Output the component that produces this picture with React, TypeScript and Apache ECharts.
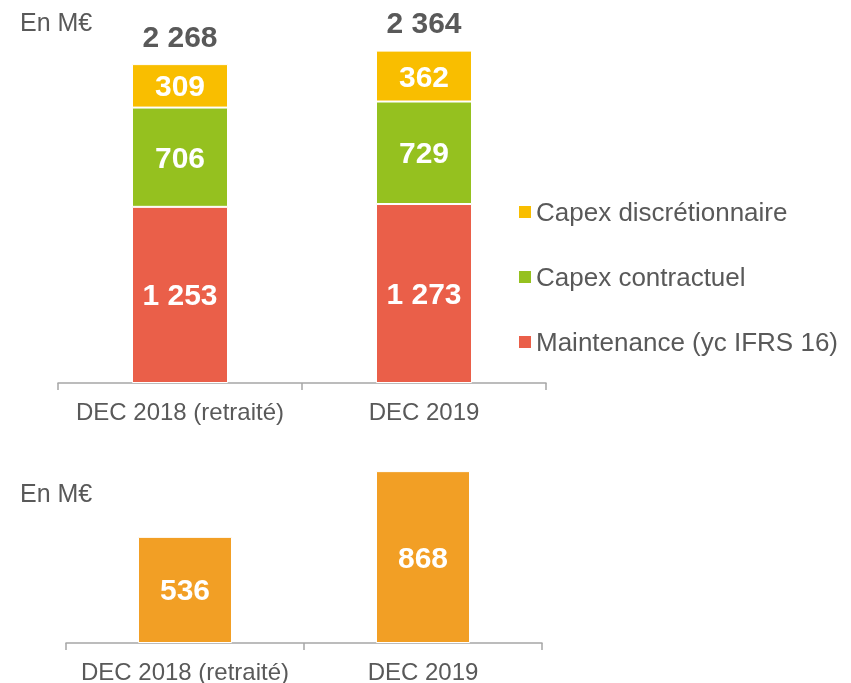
import React, { useEffect, useRef } from "react";
import * as echarts from "echarts";

const categories = ["DEC 2018 (retraité)", "DEC 2019"];
const maintenance = [1253, 1273];
const contractuel = [706, 729];
const discretionnaire = [309, 362];
const bottomValues = [536, 868];
const unitLabel = "En M€";

const FONT = "'Liberation Sans', Arial, sans-serif";
const GRAY = "#595959";

const fmt = (v: number) => String(v).replace(/\B(?=(\d{3})+(?!\d))/g, " ");

export default function App() {
  const ref = useRef<HTMLDivElement>(null);
  useEffect(() => {
    if (!ref.current) return;
    const chart = echarts.init(ref.current, null, { renderer: "svg" });
    const totals = categories.map((_, i) => maintenance[i] + contractuel[i] + discretionnaire[i]);
    const inside = {
      show: true,
      position: "inside",
      color: "#fff",
      fontFamily: FONT,
      fontWeight: "bold",
      fontSize: 30,
      formatter: (p: any) => fmt(p.value),
    };
    const axisCommon = {
      type: "category",
      data: categories,
      axisLine: { lineStyle: { color: "#a6a6a6", width: 1.5 } },
      axisTick: { show: true, interval: 0, length: 7, lineStyle: { color: "#a6a6a6", width: 1.5 } },
      axisLabel: { interval: 0, color: GRAY, fontFamily: FONT, fontSize: 24, margin: 16 },
    };
    chart.setOption({
      animation: false,
      textStyle: { fontFamily: FONT },
      grid: [
        { left: 58, width: 488, top: 31.5, height: 351.5 },
        { left: 66, width: 476, top: 445, height: 198 },
      ],
      xAxis: [
        { ...axisCommon, gridIndex: 0 },
        { ...axisCommon, gridIndex: 1 },
      ],
      yAxis: [
        { type: "value", gridIndex: 0, min: 0, max: 2500, show: false },
        { type: "value", gridIndex: 1, min: 0, max: 1000, show: false },
      ],
      legend: {
        orient: "vertical",
        left: 514,
        top: 194,
        icon: "rect",
        itemWidth: 12,
        itemHeight: 12,
        itemGap: 39,
        itemStyle: { borderWidth: 0 },
        data: ["Capex discrétionnaire", "Capex contractuel", "Maintenance (yc IFRS 16)"],
        textStyle: { color: GRAY, fontFamily: FONT, fontSize: 26 },
      },
      graphic: [
        { type: "text", left: 20, top: 9, style: { text: unitLabel, fill: GRAY, font: `25px ${FONT}` } },
        { type: "text", left: 20, top: 480, style: { text: unitLabel, fill: GRAY, font: `25px ${FONT}` } },
      ],
      series: [
        {
          name: "Maintenance (yc IFRS 16)",
          type: "bar",
          stack: "top",
          xAxisIndex: 0,
          yAxisIndex: 0,
          barWidth: 96,
          data: maintenance,
          itemStyle: { color: "#EA5F49", borderColor: "#fff", borderWidth: 1 },
          label: inside,
        },
        {
          name: "Capex contractuel",
          type: "bar",
          stack: "top",
          xAxisIndex: 0,
          yAxisIndex: 0,
          barWidth: 96,
          data: contractuel,
          itemStyle: { color: "#95C11F", borderColor: "#fff", borderWidth: 1 },
          label: inside,
        },
        {
          name: "Capex discrétionnaire",
          type: "bar",
          stack: "top",
          xAxisIndex: 0,
          yAxisIndex: 0,
          barWidth: 96,
          data: discretionnaire,
          itemStyle: { color: "#F9BE00", borderColor: "#fff", borderWidth: 1 },
          label: inside,
        },
        {
          name: "total",
          type: "bar",
          stack: "top",
          xAxisIndex: 0,
          yAxisIndex: 0,
          barWidth: 96,
          data: totals.map(() => 0),
          itemStyle: { color: "transparent" },
          label: {
            show: true,
            position: "top",
            distance: 13,
            color: GRAY,
            fontFamily: FONT,
            fontWeight: "bold",
            fontSize: 30,
            formatter: (p: any) => fmt(totals[p.dataIndex]),
          },
        },
        {
          name: "bottom",
          type: "bar",
          xAxisIndex: 1,
          yAxisIndex: 1,
          barWidth: 94,
          data: bottomValues,
          itemStyle: { color: "#F29F25", borderColor: "#fff", borderWidth: 1 },
          label: inside,
        },
      ],
    });
    return () => chart.dispose();
  }, []);
  return <div ref={ref} style={{ position: "fixed", left: 0, top: 0, width: 851, height: 683 }} />;
}
